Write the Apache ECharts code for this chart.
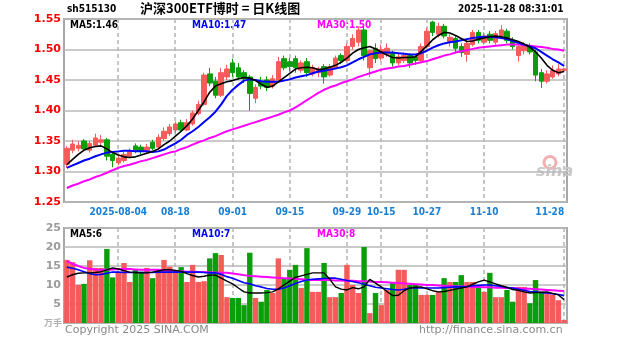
<!DOCTYPE html>
<html>
<head>
<meta charset="utf-8">
<script src="https://cdn.jsdelivr.net/npm/echarts@6/dist/echarts.min.js"></script>
<style>
html,body{margin:0;padding:0;background:#fff;}
#chart{width:627px;height:342px;}
</style>
</head>
<body>
<div id="chart"></div>
<script>
// Trading days shown on the daily K-line
const dates = [
  '2025-07-22','2025-07-23','2025-07-24','2025-07-25','2025-07-28','2025-07-29','2025-07-30','2025-07-31','2025-08-01',
  '2025-08-04','2025-08-05','2025-08-06','2025-08-07','2025-08-08','2025-08-11','2025-08-12','2025-08-13','2025-08-14','2025-08-15',
  '2025-08-18','2025-08-19','2025-08-20','2025-08-21','2025-08-22','2025-08-25','2025-08-26','2025-08-27','2025-08-28','2025-08-29',
  '2025-09-01','2025-09-02','2025-09-03','2025-09-04','2025-09-05','2025-09-08','2025-09-09','2025-09-10','2025-09-11','2025-09-12',
  '2025-09-15','2025-09-16','2025-09-17','2025-09-18','2025-09-19','2025-09-22','2025-09-23','2025-09-24','2025-09-25','2025-09-26',
  '2025-09-29','2025-09-30','2025-10-09','2025-10-10','2025-10-13','2025-10-14','2025-10-15','2025-10-16','2025-10-17',
  '2025-10-20','2025-10-21','2025-10-22','2025-10-23','2025-10-24','2025-10-27','2025-10-28','2025-10-29','2025-10-30','2025-10-31',
  '2025-11-03','2025-11-04','2025-11-05','2025-11-06','2025-11-07','2025-11-10','2025-11-11','2025-11-12','2025-11-13','2025-11-14',
  '2025-11-17','2025-11-18','2025-11-19','2025-11-20','2025-11-21','2025-11-24','2025-11-25','2025-11-26','2025-11-27','2025-11-28'
];

// Daily bars: [open, close, low, high]
const ohlc = [
  [1.312,1.338,1.306,1.342],[1.335,1.345,1.330,1.352],[1.338,1.343,1.333,1.350],[1.350,1.337,1.333,1.353],
  [1.335,1.346,1.331,1.350],[1.343,1.355,1.340,1.362],[1.348,1.352,1.342,1.360],[1.352,1.325,1.318,1.355],
  [1.328,1.318,1.307,1.333],[1.314,1.322,1.310,1.326],[1.318,1.328,1.315,1.332],[1.325,1.333,1.322,1.338],
  [1.342,1.334,1.330,1.346],[1.340,1.333,1.328,1.344],[1.333,1.340,1.330,1.345],[1.348,1.338,1.335,1.352],
  [1.340,1.356,1.338,1.361],[1.354,1.366,1.350,1.372],[1.362,1.373,1.358,1.378],[1.368,1.378,1.363,1.382],
  [1.380,1.368,1.364,1.385],[1.368,1.380,1.366,1.386],[1.378,1.396,1.375,1.400],[1.395,1.410,1.392,1.416],
  [1.410,1.458,1.408,1.462],[1.460,1.445,1.440,1.470],[1.448,1.425,1.420,1.455],[1.425,1.462,1.422,1.470],
  [1.455,1.468,1.450,1.475],[1.478,1.462,1.455,1.485],[1.470,1.455,1.450,1.478],[1.462,1.452,1.445,1.466],
  [1.455,1.428,1.400,1.458],[1.420,1.438,1.412,1.443],[1.448,1.440,1.435,1.455],[1.450,1.438,1.432,1.456],
  [1.440,1.452,1.436,1.458],[1.450,1.480,1.446,1.488],[1.485,1.470,1.466,1.490],[1.480,1.472,1.464,1.486],
  [1.485,1.470,1.462,1.490],[1.466,1.478,1.462,1.482],[1.480,1.462,1.455,1.486],[1.460,1.470,1.456,1.475],
  [1.462,1.468,1.455,1.472],[1.472,1.455,1.444,1.476],[1.458,1.472,1.455,1.476],[1.470,1.486,1.468,1.490],
  [1.490,1.482,1.476,1.494],[1.482,1.505,1.480,1.510],[1.505,1.518,1.500,1.525],[1.512,1.532,1.505,1.538],
  [1.532,1.490,1.482,1.538],[1.470,1.498,1.455,1.500],[1.502,1.485,1.478,1.510],[1.486,1.500,1.482,1.508],
  [1.492,1.502,1.488,1.510],[1.495,1.478,1.472,1.498],[1.478,1.488,1.474,1.494],[1.482,1.490,1.478,1.495],
  [1.490,1.478,1.470,1.494],[1.488,1.482,1.475,1.492],[1.482,1.505,1.480,1.510],[1.505,1.530,1.502,1.535],
  [1.545,1.528,1.522,1.547],[1.525,1.538,1.520,1.544],[1.538,1.522,1.518,1.542],[1.512,1.520,1.505,1.525],
  [1.518,1.502,1.496,1.522],[1.505,1.495,1.488,1.510],[1.492,1.510,1.480,1.515],[1.508,1.528,1.505,1.532],
  [1.528,1.515,1.510,1.532],[1.512,1.522,1.508,1.528],[1.525,1.515,1.510,1.530],[1.512,1.526,1.508,1.530],
  [1.522,1.532,1.518,1.540],[1.530,1.515,1.510,1.534],[1.515,1.505,1.500,1.520],[1.490,1.505,1.480,1.508],
  [1.498,1.506,1.492,1.512],[1.506,1.496,1.492,1.510],[1.496,1.458,1.448,1.500],[1.462,1.448,1.437,1.468],
  [1.448,1.460,1.444,1.466],[1.455,1.466,1.452,1.474],[1.460,1.468,1.456,1.476],[1.466,1.468,1.464,1.470]
];

// Price moving averages
const ma5 = [
  1.311,1.320,1.328,1.335,1.339,1.341,1.342,1.337,1.331,1.327,1.324,1.323,1.324,1.327,1.330,1.333,1.337,1.344,1.350,1.358,
  1.366,1.375,1.386,1.400,1.414,1.430,1.440,1.444,1.447,1.449,1.452,1.454,1.453,1.449,1.443,1.438,1.440,1.447,1.454,1.461,
  1.468,1.470,1.471,1.470,1.467,1.468,1.471,1.474,1.479,1.486,1.494,1.500,1.503,1.505,1.501,1.496,1.491,1.487,1.486,1.487,
  1.487,1.488,1.497,1.506,1.516,1.523,1.528,1.527,1.523,1.518,1.513,1.514,1.517,1.519,1.521,1.522,1.521,1.519,1.516,1.513,
  1.509,1.504,1.496,1.486,1.474,1.466,1.462,1.464
];
const ma10 = [
  1.306,1.310,1.314,1.318,1.321,1.325,1.328,1.331,1.332,1.333,1.334,1.334,1.333,1.333,1.333,1.332,1.333,1.336,1.341,1.346,
  1.352,1.360,1.366,1.373,1.381,1.389,1.398,1.410,1.424,1.434,1.442,1.449,1.451,1.450,1.448,1.447,1.447,1.447,1.449,1.451,
  1.454,1.456,1.458,1.461,1.464,1.465,1.467,1.469,1.471,1.474,1.479,1.484,1.488,1.492,1.494,1.495,1.495,1.495,1.494,1.493,
  1.492,1.492,1.494,1.498,1.503,1.507,1.510,1.512,1.513,1.515,1.517,1.519,1.520,1.521,1.521,1.520,1.519,1.517,1.514,1.511,
  1.508,1.505,1.502,1.496,1.490,1.484,1.479,1.473
];
const ma30 = [
  1.273,1.277,1.280,1.284,1.287,1.291,1.294,1.298,1.302,1.306,1.309,1.311,1.314,1.317,1.319,1.322,1.325,1.328,1.331,1.333,
  1.337,1.340,1.344,1.348,1.351,1.355,1.358,1.362,1.366,1.369,1.372,1.375,1.378,1.381,1.384,1.387,1.390,1.393,1.397,1.400,
  1.405,1.411,1.417,1.423,1.429,1.434,1.438,1.441,1.445,1.448,1.451,1.455,1.458,1.461,1.464,1.467,1.469,1.470,1.472,1.473,
  1.475,1.477,1.479,1.481,1.484,1.487,1.490,1.492,1.495,1.497,1.499,1.501,1.503,1.504,1.505,1.506,1.507,1.508,1.508,1.508,
  1.507,1.506,1.505,1.504,1.503,1.501,1.500,1.498
];

// Volume and its moving averages
const volume = [
  16.6,16.0,10.0,10.3,16.5,14.5,14.5,19.5,12.0,13.4,15.8,10.8,14.0,13.5,14.5,11.8,14.0,16.6,14.8,13.4,
  14.7,10.8,15.3,10.8,11.0,17.0,18.4,17.9,6.8,6.6,6.6,4.7,18.5,6.6,5.6,8.7,7.9,17.0,11.8,14.0,
  15.3,9.2,19.7,8.2,8.2,15.8,6.8,6.8,7.9,15.3,10.0,7.9,20.0,2.6,7.9,4.7,8.7,10.5,14.0,14.0,
  10.0,10.0,7.4,7.4,7.4,8.2,11.8,10.8,10.8,12.6,10.8,10.8,9.5,8.2,13.2,6.8,6.8,8.7,5.6,9.5,
  9.5,5.2,11.3,8.2,7.9,7.5,6.0,0.8
];
const volMa5 = [
  12.1,12.7,13.1,13.2,13.2,13.3,13.5,14.0,14.5,14.2,13.8,13.4,13.3,13.2,13.2,13.4,13.7,14.0,14.0,13.8,
  13.6,13.0,12.5,12.1,12.3,12.6,12.6,11.8,11.0,10.3,9.2,8.2,7.9,7.9,7.9,8.0,8.2,9.0,10.0,11.0,
  12.0,12.4,12.8,13.2,13.2,13.2,11.5,9.5,8.9,8.7,9.3,9.0,9.5,11.5,10.5,9.5,8.3,7.2,7.3,8.5,
  9.2,9.4,9.5,9.0,8.5,8.2,8.3,8.6,8.9,9.2,9.5,10.2,10.8,11.3,10.8,10.3,9.8,9.4,8.8,8.6,
  8.2,7.9,8.0,8.1,8.2,7.8,7.4,6.1
];
const volMa10 = [
  14.7,14.4,14.0,13.5,13.0,12.7,12.8,13.1,13.4,13.4,13.3,13.3,13.3,13.3,13.3,13.3,13.4,13.4,13.4,13.4,
  13.4,13.4,13.4,13.4,13.3,13.2,13.2,12.8,12.2,11.8,11.2,10.6,10.3,9.8,9.5,9.1,8.9,8.9,9.2,9.8,
  10.4,10.9,11.3,11.5,11.6,11.7,11.8,11.8,11.5,11.2,10.9,10.6,10.2,9.8,9.4,9.2,9.0,8.8,8.7,8.9,
  9.2,9.2,9.2,9.2,9.2,9.2,9.3,9.4,9.5,9.5,9.6,9.8,9.9,10.0,10.0,9.8,9.6,9.3,9.2,8.9,
  8.6,8.3,8.2,8.0,7.9,7.7,7.5,7.2
];
const volMa30 = [
  16.3,15.6,15.0,14.5,14.3,14.1,14.0,14.0,14.1,14.2,14.2,14.2,14.1,14.0,14.0,14.0,14.0,13.9,13.8,13.7,
  13.6,13.5,13.5,13.4,13.4,13.3,13.3,13.2,13.2,13.0,12.8,12.6,12.4,12.3,12.2,12.1,12.0,11.9,11.8,11.7,
  11.6,11.5,11.4,11.3,11.3,11.3,11.3,11.2,11.2,11.1,11.1,11.0,11.0,10.9,10.8,10.8,10.7,10.6,10.5,10.4,
  10.3,10.2,10.1,10.0,10.0,9.9,9.8,9.7,9.7,9.6,9.6,9.5,9.5,9.4,9.4,9.3,9.3,9.2,9.2,9.1,
  9.0,9.0,8.9,8.8,8.7,8.6,8.5,8.4
];

// Date ticks on the time axis
const tickDates = ['2025-08-04','2025-08-18','2025-09-01','2025-09-15','2025-09-29','2025-10-15','2025-10-27','2025-11-10','2025-11-28'];
const tickLabels = ['2025-08-04','08-18','09-01','09-15','09-29','10-15','10-27','11-10','11-28'];

const UP = '#f65b5b', DOWN = '#0a9f0a';
const last = a => a[a.length - 1];
const volColors = ohlc.map(d => d[1] >= d[0] ? UP : DOWN);

const gridLine = { color: '#b9b9b9', width: 1.5 };

// Dashed vertical guide at each labelled date, spanning the whole panel
const guideSeries = (axisIdx) => ({
  type: 'custom', xAxisIndex: axisIdx, yAxisIndex: axisIdx, z: 1, silent: true,
  data: tickDates.map(d => [d]),
  encode: { x: 0 },
  renderItem: (params, api) => {
    const cs = params.coordSys;
    const x = Math.round(api.coord([api.value(0), 0])[0]);
    return {
      type: 'line',
      shape: { x1: x, y1: cs.y, x2: x, y2: cs.y + cs.height },
      style: { stroke: '#b4b4b4', lineWidth: 1.5, lineDash: [4, 3] }
    };
  }
});

const FONT = 'bold 10px "DejaVu Sans Condensed", "DejaVu Sans", sans-serif';
const lbl = (t, x, y, color, extra) => ({
  type: 'text', left: x, top: y,
  style: Object.assign({ text: t, fill: color, font: FONT }, extra || {})
});

const chart = echarts.init(document.getElementById('chart'), null, { renderer: 'canvas' });
chart.setOption({
  animation: false,
  backgroundColor: '#fff',
  grid: [
    { left: 64, right: 60, top: 19, height: 183, show: true, borderColor: '#a8a8a8', borderWidth: 2 },
    { left: 64, right: 60, top: 228, height: 95, show: true, borderColor: '#a8a8a8', borderWidth: 2 }
  ],
  xAxis: [
    {
      type: 'category', gridIndex: 0, data: dates, boundaryGap: true,
      axisLine: { show: false }, axisTick: { show: false }, splitLine: { show: false },
      axisLabel: {
        interval: (i, v) => tickDates.includes(v),
        formatter: v => tickLabels[tickDates.indexOf(v)],
        color: '#1a7fd4', fontSize: 10, fontWeight: 'bold', fontFamily: 'DejaVu Sans Condensed',
        margin: 5, alignMaxLabel: 'right'
      }
    },
    {
      type: 'category', gridIndex: 1, data: dates, boundaryGap: true,
      axisLine: { show: false }, axisTick: { show: false }, axisLabel: { show: false }, splitLine: { show: false }
    }
  ],
  yAxis: [
    {
      type: 'value', gridIndex: 0, min: 1.25, max: 1.55, interval: 0.05,
      axisLine: { show: false }, axisTick: { show: false },
      splitLine: { show: true, lineStyle: gridLine },
      axisLabel: { color: '#f00', fontSize: 11, fontWeight: 'bold', fontFamily: 'DejaVu Sans', margin: 3, formatter: v => v.toFixed(2) }
    },
    {
      type: 'value', gridIndex: 1, min: 0, max: 25, interval: 5,
      axisLine: { show: false }, axisTick: { show: false },
      splitLine: { show: true, lineStyle: gridLine },
      axisLabel: { color: '#9a9a9a', fontSize: 11, fontWeight: 'bold', fontFamily: 'DejaVu Sans', margin: 3, formatter: v => v === 0 ? '' : String(v) }
    }
  ],
  series: [
    guideSeries(0),
    guideSeries(1),
    {
      type: 'candlestick', xAxisIndex: 0, yAxisIndex: 0, data: ohlc, barWidth: 5,
      itemStyle: { color: UP, color0: DOWN, borderColor: UP, borderColor0: DOWN, borderWidth: 1 }
    },
    { type: 'line', xAxisIndex: 0, yAxisIndex: 0, data: ma30, symbol: 'none', lineStyle: { color: '#ff00ff', width: 2 } },
    { type: 'line', xAxisIndex: 0, yAxisIndex: 0, data: ma10, symbol: 'none', lineStyle: { color: '#0000ff', width: 2 } },
    { type: 'line', xAxisIndex: 0, yAxisIndex: 0, data: ma5, symbol: 'none', lineStyle: { color: '#000', width: 1.6 } },
    {
      type: 'bar', xAxisIndex: 1, yAxisIndex: 1, barWidth: 5.4,
      data: volume.map((v, i) => ({ value: v, itemStyle: { color: volColors[i] } }))
    },
    { type: 'line', xAxisIndex: 1, yAxisIndex: 1, data: volMa30, symbol: 'none', lineStyle: { color: '#ff00ff', width: 2 } },
    { type: 'line', xAxisIndex: 1, yAxisIndex: 1, data: volMa10, symbol: 'none', lineStyle: { color: '#0000ff', width: 1.6 } },
    { type: 'line', xAxisIndex: 1, yAxisIndex: 1, data: volMa5, symbol: 'none', lineStyle: { color: '#000', width: 1.4 } }
  ],
  graphic: [
    lbl('sh515130', 67, 4, '#000'),
    lbl('沪深300ETF博时 = 日K线图', 140, 2, '#000', { font: 'bold 13px "Noto Sans CJK SC", sans-serif' }),
    lbl('2025-11-28 08:31:01', 458, 4, '#000'),
    lbl('MA5:' + last(ma5).toFixed(2), 70, 20, '#000'),
    lbl('MA10:' + last(ma10).toFixed(2), 192, 20, '#0000ff'),
    lbl('MA30:' + last(ma30).toFixed(2), 317, 20, '#ff00ff'),
    lbl('MA5:' + Math.round(last(volMa5)), 70, 229, '#000'),
    lbl('MA10:' + Math.round(last(volMa10)), 192, 229, '#0000ff'),
    lbl('MA30:' + Math.round(last(volMa30)), 317, 229, '#ff00ff'),
    lbl('万手', 44, 318, '#b0b0b0', { font: 'bold 9px "Noto Sans CJK SC", sans-serif' }),
    lbl('Copyright 2025 SINA.COM', 65, 325, '#8a8a8a', { font: '11px "DejaVu Sans", sans-serif' }),
    lbl('http://finance.sina.com.cn', 419, 325, '#8a8a8a', { font: '11px "DejaVu Sans", sans-serif' }),
    {
      type: 'group', left: 536, top: 154, silent: true,
      children: [
        { type: 'circle', shape: { cx: 14, cy: 9, r: 6 }, style: { fill: 'none', stroke: '#f3b0b0', lineWidth: 3 } },
        { type: 'text', style: { x: 0, y: 10, text: 'sina', fill: '#c8c8c8', font: 'italic bold 16px "DejaVu Sans", sans-serif' } }
      ]
    }
  ]
});
</script>
</body>
</html>
